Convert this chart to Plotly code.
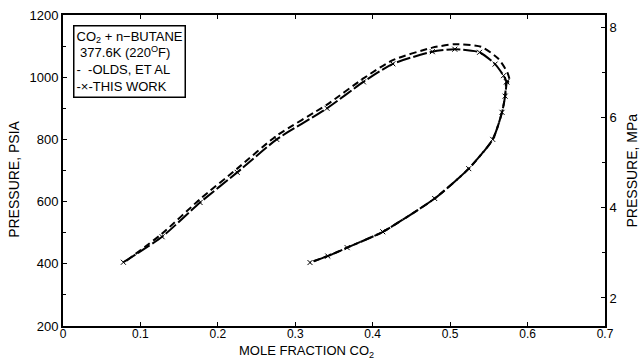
import plotly.graph_objects as go

# --- data ---
work_dew_x = [0.078, 0.128, 0.177, 0.225, 0.276, 0.341, 0.388, 0.426, 0.477, 0.506, 0.538, 0.558, 0.569, 0.573]
work_dew_y = [405, 487, 597, 694, 800, 900, 985, 1043, 1082, 1090, 1080, 1042, 1005, 985]
olds_dew_x = [0.082, 0.128, 0.177, 0.225, 0.276, 0.341, 0.388, 0.426, 0.477, 0.506, 0.540, 0.562, 0.574, 0.577]
olds_dew_y = [410, 497, 608, 706, 812, 912, 996, 1055, 1095, 1106, 1098, 1060, 1015, 985]
bubble_x = [0.573, 0.571, 0.567, 0.555, 0.524, 0.480, 0.413, 0.367, 0.342, 0.319]
bubble_y = [985, 939, 887, 800, 706, 610, 503, 452, 425, 404]

x_ticks = [0, 0.1, 0.2, 0.3, 0.4, 0.5, 0.6, 0.7]
x_ticktext = ["0", "0.1", "0.2", "0.3", "0.4", "0.5", "0.6", "0.7"]
mpa_ticks = [2, 4, 6, 8]
mpa_minor = [3, 5, 7]

PSI_PER_MPA = 145.038

fig = go.Figure()
fig.add_trace(go.Scatter(x=olds_dew_x + bubble_x, y=olds_dew_y + bubble_y,
                         mode="lines", name="OLDS, ET AL", showlegend=False,
                         line=dict(color="black", width=2, dash="7px,4px",
                                   shape="spline", smoothing=0.6)))
fig.add_trace(go.Scatter(x=work_dew_x + bubble_x, y=work_dew_y + bubble_y,
                         mode="lines+markers", name="THIS WORK", showlegend=False,
                         line=dict(color="black", width=2, dash="14px,3px",
                                   shape="spline", smoothing=0.6),
                         marker=dict(symbol="x-thin", size=5, color="black",
                                     line=dict(color="black", width=1))))
# invisible trace to activate right axis
fig.add_trace(go.Scatter(x=[0.0], y=[3.0], yaxis="y2", mode="markers",
                         marker=dict(opacity=0), showlegend=False, hoverinfo="skip"))

font = "Liberation Sans, Arial, sans-serif"
fig.add_annotation(
    xref="paper", yref="paper", x=0.018, y=0.968, xanchor="left", yanchor="top",
    align="left", showarrow=False,
    text=("CO<sub>2</sub> + n−BUTANE<br>&nbsp;377.6K (220<sup>O</sup>F)<br>"
          "-&nbsp;&nbsp;-OLDS, ET AL<br>-×-THIS WORK"),
    font=dict(family=font, size=13, color="black"),
    bordercolor="black", borderwidth=1.5, borderpad=2, bgcolor="white",
)
# axis titles
fig.add_annotation(xref="paper", yref="paper", x=-0.0904, y=0.47, xanchor="center", yanchor="middle",
                   textangle=-90, showarrow=False, text="PRESSURE, PSIA",
                   font=dict(family=font, size=14))
fig.add_annotation(xref="paper", yref="paper", x=1.0498, y=0.50, xanchor="center", yanchor="middle",
                   textangle=-90, showarrow=False, text="PRESSURE, MPa",
                   font=dict(family=font, size=14))
fig.add_annotation(xref="paper", yref="paper", x=0.45, y=-0.083, xanchor="center", yanchor="middle",
                   showarrow=False, text="MOLE FRACTION CO<sub>2</sub>",
                   font=dict(family=font, size=13), borderpad=0)

fig.update_layout(
    width=641, height=361,
    margin=dict(l=63, r=36, t=15, b=35),
    paper_bgcolor="white", plot_bgcolor="white",
    font=dict(family=font, size=13, color="black"),
    showlegend=False,
    xaxis=dict(range=[0, 0.7], tickvals=x_ticks, ticktext=x_ticktext, automargin=False,
               ticklabelstandoff=-4, tickfont=dict(size=12),
               showline=True, linecolor="black", linewidth=2, mirror="ticks",
               ticks="inside", ticklen=4, tickcolor="black", showgrid=False, zeroline=False),
    yaxis=dict(range=[200, 1200], dtick=200, automargin=False,
               showline=True, linecolor="black", linewidth=2,
               ticks="inside", ticklen=4, tickcolor="black", showgrid=False, zeroline=False,
               minor=dict(dtick=100, ticks="inside", ticklen=3, tickcolor="black")),
    yaxis2=dict(range=[200 / PSI_PER_MPA, 1200 / PSI_PER_MPA], overlaying="y", side="right",
                tickvals=mpa_ticks, automargin=False,
                showline=True, linecolor="black", linewidth=2,
                ticks="inside", ticklen=4, tickcolor="black", showgrid=False, zeroline=False,
                minor=dict(tickvals=mpa_minor, ticks="inside", ticklen=3, tickcolor="black")),
)

fig.write_html("out.html")
